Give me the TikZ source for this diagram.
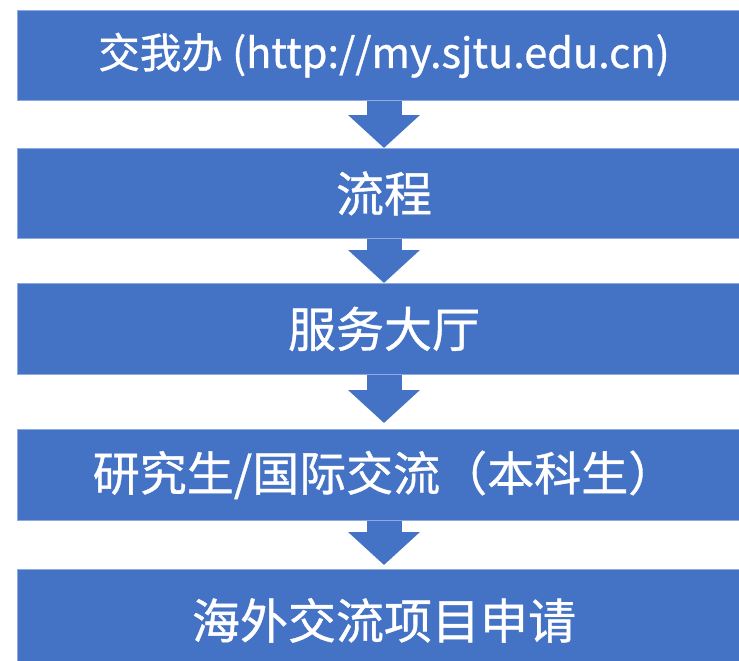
\documentclass[tikz,border=0pt]{standalone}
\usepackage{fontspec}
\setmainfont{Noto Sans CJK SC}[UprightFeatures={FakeBold=0.8}]
\usetikzlibrary{arrows.meta}
\definecolor{boxblue}{HTML}{4472C4}
\definecolor{edgeblue}{HTML}{8FAADC}
\tikzset{
  stepbox/.style={fill=boxblue, draw=edgeblue, line width=0.8pt, minimum width=734pt, inner sep=0pt, text=white, anchor=north},
  flowarrow/.style={draw=boxblue, line width=35pt, -{Triangle[width=70pt,length=33pt]}}
}
\begin{document}
\begin{tikzpicture}[x=1pt,y=-1pt]
\useasboundingbox (0,0) rectangle (739,661);
\begin{scope}
\clip (0,0) rectangle (739,661);
\node[stepbox, minimum height=90pt, font=\fontsize{41.5}{46}\selectfont] (b1) at (384,10) {交我办 (http://my.sjtu.edu.cn)};
\node[stepbox, minimum height=90pt, font=\fontsize{48}{52}\selectfont] (b2) at (384,148) {流程};
\node[stepbox, minimum height=91pt, font=\fontsize{48}{52}\selectfont] (b3) at (384,283) {服务大厅};
\node[stepbox, minimum height=91pt, font=\fontsize{47}{52}\selectfont] (b4) at (384,429) {研究生/国际交流（本科生）};
\node[stepbox, minimum height=96pt, font=\fontsize{48}{54}\selectfont, text depth=0pt] (b5) at (384,569) {\raisebox{-2pt}{海外交流项目申请}};
\end{scope}
\draw[flowarrow] (b1.south) -- (b2.north);
\draw[flowarrow] (b2.south) -- (b3.north);
\draw[flowarrow, shorten >=6pt] (b3.south) -- (b4.north);
\draw[flowarrow, shorten >=4pt] (b4.south) -- (b5.north);
\end{tikzpicture}
\end{document}
